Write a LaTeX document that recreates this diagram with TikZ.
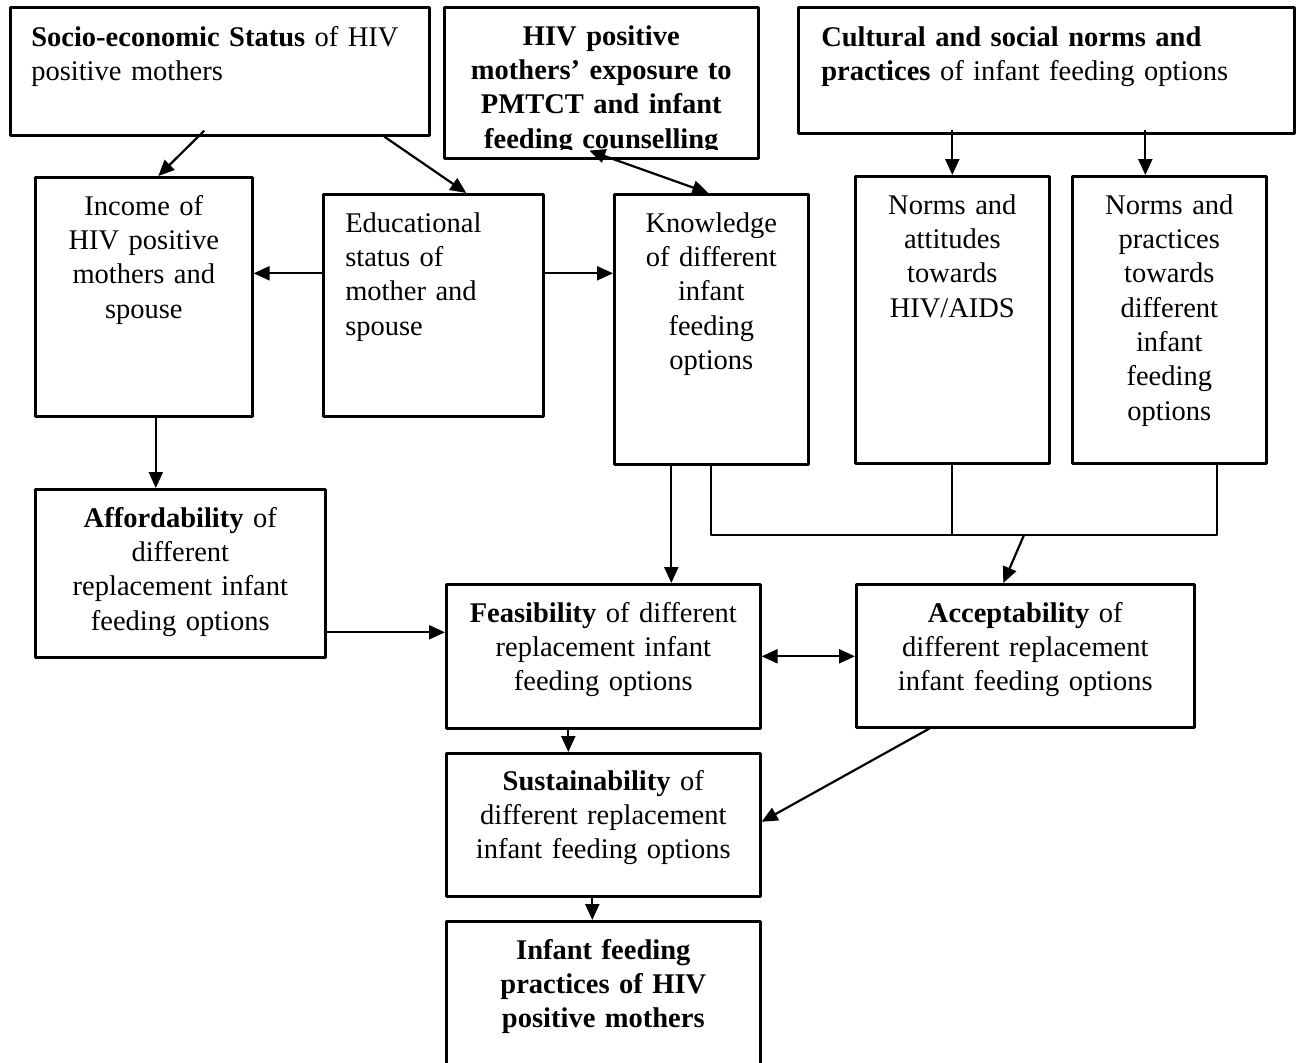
\documentclass[tikz,border=0pt]{standalone}
\usepackage{fontspec}
\setmainfont{Liberation Serif}
\usetikzlibrary{arrows.meta}

\tikzset{
  box/.style={draw, line width=2.6pt, anchor=north west, inner ysep=0pt, inner xsep=0pt, align=center},
  lbox/.style={box, align=left},
  conn/.style={line width=2.2pt}
}

\begin{document}
\begin{tikzpicture}[x=1pt,y=-1pt,line join=round,>={Triangle[length=16pt,width=14pt]},
  font=\fontsize{28.5}{34.3}\selectfont]
\useasboundingbox (0,0) rectangle (1304,1063);

% top row
\node[lbox, inner xsep=21pt, text width=377pt, text height=39pt, text depth=89pt] (ses) at (9,6)
  {\textbf{Socio-economic Status} of HIV\\ positive mothers};
\node[box, text width=314pt, text height=38pt, text depth=113pt] (pmtct) at (443,6)
  {\textbf{HIV positive}\\ \textbf{mothers’ exposure to}\\ \textbf{PMTCT and infant}\\ \textbf{feeding counselling}};
\fill[white] ([xshift=3.2pt,yshift=3pt]pmtct.south west) rectangle ([xshift=-3.2pt,yshift=10pt]pmtct.south east);
\node[lbox, inner xsep=23pt, text width=450pt, text height=39pt, text depth=87pt] (cult) at (797,6)
  {\textbf{Cultural and social norms and}\\ \textbf{practices} of infant feeding options};

% second row
\node[box, text width=217pt, text height=38pt, text depth=201pt] (income) at (34,176)
  {Income of\\ HIV positive\\ mothers and\\ spouse};
\node[lbox, inner xsep=22pt, text width=176pt, text height=38pt, text depth=184pt] (edu) at (322,193)
  {Educational\\ status of\\ mother and\\ spouse};
\node[box, text width=194pt, text height=38pt, text depth=232pt] (know) at (613,193)
  {Knowledge\\ of different\\ infant\\ feeding\\ options};
\node[box, text width=194pt, text height=38pt, text depth=249pt] (normshiv) at (854,175)
  {Norms and\\ attitudes\\ towards\\ HIV/AIDS};
\node[box, text width=194pt, text height=38pt, text depth=249pt] (normsprac) at (1071,175)
  {Norms and\\ practices\\ towards\\ different\\ infant\\ feeding\\ options};

% lower part
\node[box, text width=290pt, text height=38pt, text depth=130pt] (afford) at (34,488)
  {\textbf{Affordability} of\\ different\\ replacement infant\\ feeding options};
\node[box, text width=314pt, text height=38pt, text depth=106pt] (feas) at (445,583)
  {\textbf{Feasibility} of different\\ replacement infant\\ feeding options};
\node[box, text width=338pt, text height=38pt, text depth=105pt] (accept) at (855,583)
  {\textbf{Acceptability} of\\ different replacement\\ infant feeding options};
\node[box, text width=314pt, text height=37pt, text depth=106pt] (sustain) at (445,752)
  {\textbf{Sustainability} of\\ different replacement\\ infant feeding options};
\node[box, text width=314pt, text height=38pt, text depth=150pt] (infant) at (445,920)
  {\textbf{Infant feeding}\\ \textbf{practices of HIV}\\ \textbf{positive mothers}};

\coordinate (split) at (1024,535);

% connectors
\draw[conn,->] ([xshift=-15.5pt,yshift=6pt]ses.south) -- ([xshift=14.5pt]income.north);
\draw[conn,->] ([xshift=164.5pt]ses.south) -- ([xshift=33pt]edu.north);
\draw[conn,<->] ([xshift=-12pt,yshift=9pt]pmtct.south) -- ([xshift=-3pt]know.north);
\draw[conn,->] ([yshift=5pt]cult.south -| normshiv.north) -- (normshiv.north);
\draw[conn,->] ([xshift=-24pt,yshift=5pt]cult.south -| normsprac.north) -- ([xshift=-24pt]normsprac.north);
\draw[conn,->] ([yshift=32pt]edu.west) -- ([yshift=32pt]edu.west -| income.east);
\draw[conn,->] ([yshift=32pt]edu.east) -- ([yshift=32pt]edu.east -| know.west);
\draw[conn,->] ([xshift=12pt]income.south) -- ([xshift=12pt]income.south |- afford.north);
\draw[conn,->] ([xshift=-40pt]know.south) -- ([xshift=-40pt]know.south |- feas.north);
\draw[conn] (know.south) |- ([xshift=48pt]normsprac.south |- split) -- ([xshift=48pt]normsprac.south);
\draw[conn] (normshiv.south) -- (normshiv.south |- split);
\draw[conn,->] (split) -- ([xshift=-22pt]accept.north);
\draw[conn,->] ([yshift=-59pt]afford.east) -- ([yshift=-59pt]afford.east -| feas.west);
\draw[conn,<->] (feas.east) -- (feas.east -| accept.west);
\draw[conn,->] ([xshift=-35pt]feas.south) -- ([xshift=-35pt]feas.south |- sustain.north);
\draw[conn,->] ([xshift=-96pt]accept.south) -- ([yshift=3pt]sustain.east);
\draw[conn,->] ([xshift=-11pt]sustain.south) -- ([xshift=-11pt]sustain.south |- infant.north);
\end{tikzpicture}
\end{document}
